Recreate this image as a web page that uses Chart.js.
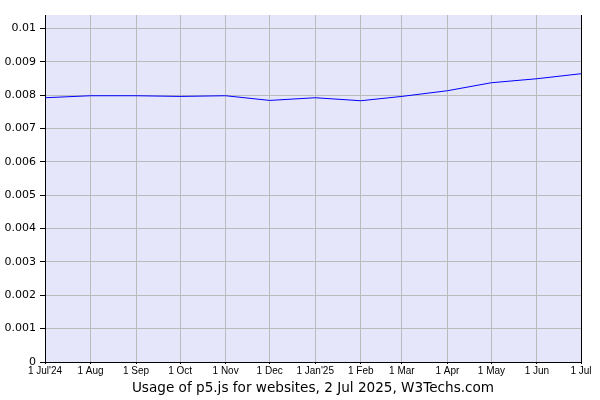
<!DOCTYPE html>
<html><head><meta charset="utf-8">
<script src="https://cdn.jsdelivr.net/npm/chart.js@4"></script>
<style>html,body{margin:0;padding:0;background:#fff}#wrap{width:600px;height:400px}</style>
</head><body><div id="wrap"><canvas id="c" width="600" height="400"></canvas></div>
<script>
// days since 1 Jul 2024
const monthDays = [0, 31, 62, 92, 123, 153, 184, 215, 243, 274, 304, 335, 365];
const monthLabels = ["1 Jul'24", "1 Aug", "1 Sep", "1 Oct", "1 Nov", "1 Dec", "1 Jan'25", "1 Feb", "1 Mar", "1 Apr", "1 May", "1 Jun", "1 Jul"];
const usage = [0.00792, 0.00798, 0.00798, 0.00796, 0.00798, 0.00784, 0.00792, 0.00783, 0.00796, 0.00813, 0.00837, 0.00849, 0.00864];
const yTicks = [0, 0.001, 0.002, 0.003, 0.004, 0.005, 0.006, 0.007, 0.008, 0.009, 0.01];
const caption = "Usage of p5.js for websites, 2 Jul 2025, W3Techs.com";

const bgPlugin = {
  id: 'bg',
  beforeDraw(chart) {
    const {ctx, chartArea: a} = chart;
    ctx.save();
    ctx.fillStyle = '#e6e6fa';
    ctx.fillRect(a.left, a.top, a.right - a.left, a.bottom - a.top);
    ctx.restore();
  },
  afterDraw(chart) {
    const {ctx, chartArea: a} = chart;
    ctx.save();
    ctx.strokeStyle = '#000';
    ctx.lineWidth = 1;
    ctx.beginPath();
    ctx.moveTo(Math.round(a.right) + 0.5, a.top);
    ctx.lineTo(Math.round(a.right) + 0.5, a.bottom + 1);
    ctx.stroke();
    ctx.restore();
  }
};

new Chart(document.getElementById('c'), {
  type: 'line',
  data: {
    datasets: [{
      data: monthDays.map((d, i) => ({x: d, y: usage[i]})),
      borderColor: '#0000ff',
      borderWidth: 1,
      pointRadius: 0,
      tension: 0,
      fill: false
    }]
  },
  options: {
    responsive: false,
    animation: false,
    layout: {padding: {top: 15, right: 19, left: 0, bottom: 0}},
    plugins: {legend: {display: false}, tooltip: {enabled: false}},
    scales: {
      x: {
        type: 'linear',
        min: 0, max: 365,
        afterBuildTicks(scale) { scale.ticks = monthDays.map(v => ({value: v})); },
        afterFit(scale) { scale.height = 38; },
        ticks: {
          autoSkip: false, maxRotation: 0, padding: 1,
          color: '#000',
          font: {family: 'Liberation Sans', size: 10},
          callback(v) { const i = monthDays.indexOf(v); return i >= 0 ? monthLabels[i] : ''; }
        },
        grid: {color: '#bbbbbb', tickLength: 2, tickColor: '#000', drawTicks: true},
        border: {color: '#000', width: 1},
        title: {display: true, text: caption, color: '#000', font: {family: 'DejaVu Sans', size: 13.6}, padding: {top: 0, bottom: 3}}
      },
      y: {
        min: 0, max: 0.0104,
        afterBuildTicks(scale) { scale.ticks = yTicks.map(v => ({value: v})); },
        afterFit(scale) { scale.width = 45; },
        ticks: {
          padding: 4, color: '#000',
          font: {family: 'DejaVu Sans', size: 11},
          callback(v) { return String(+v.toFixed(3)); }
        },
        grid: {color: '#bbbbbb', tickLength: 5, tickColor: '#000'},
        border: {color: '#000', width: 1}
      }
    }
  },
  plugins: [bgPlugin]
});
</script></body></html>
